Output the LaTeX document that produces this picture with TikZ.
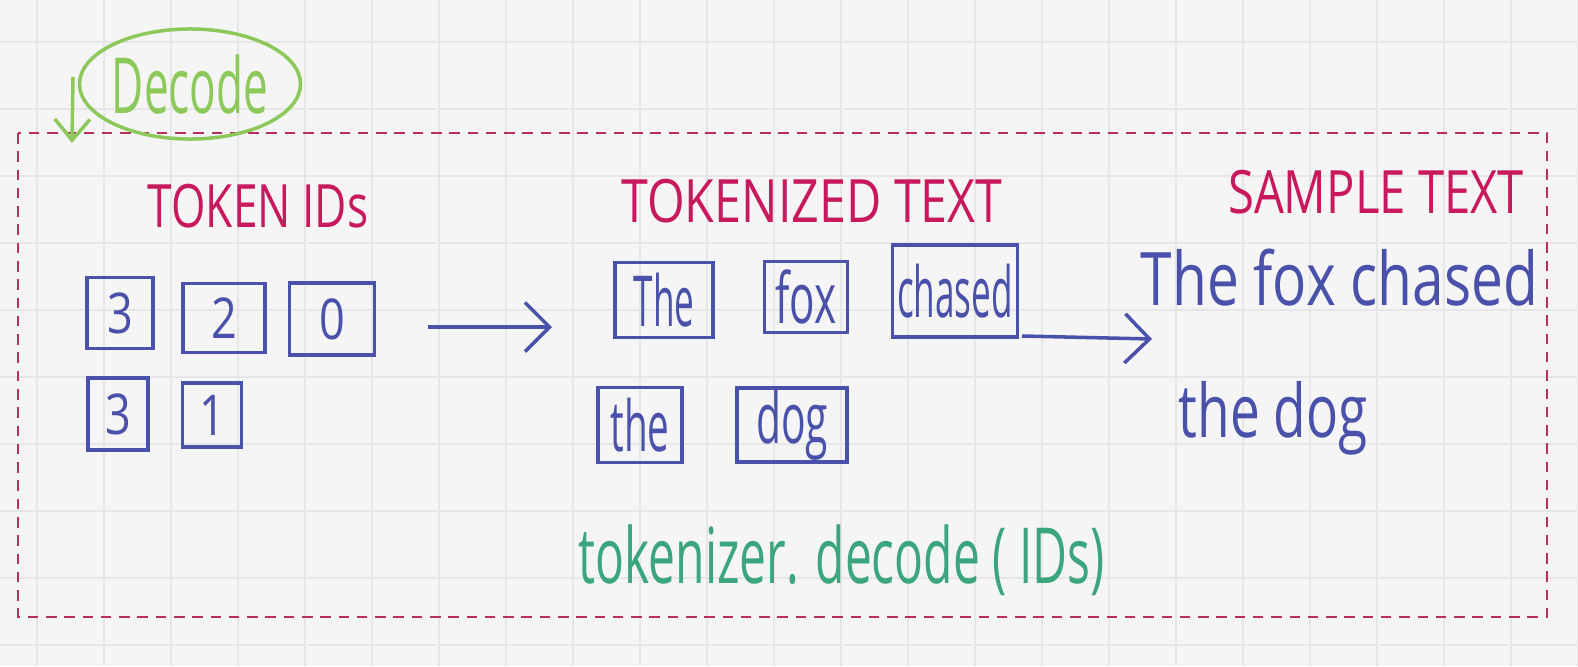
\documentclass[tikz,border=0pt]{standalone}
\usepackage{fontspec}
\usepackage{graphicx}
\setmainfont{Open Sans}
\usetikzlibrary{arrows.meta,shapes.geometric}
\definecolor{bg}{HTML}{F5F5F5}
\definecolor{gridc}{HTML}{E6E6E6}
\definecolor{pinkc}{HTML}{C8195C}
\definecolor{dashc}{HTML}{B5305F}
\definecolor{bluec}{HTML}{4A51AA}
\definecolor{greenc}{HTML}{3BA67E}
\definecolor{limec}{HTML}{8CC95A}
\newcommand\hw[2]{\scalebox{#1}[1]{#2}}
\begin{document}
\begin{tikzpicture}[x=0.01cm,y=-0.01cm,
  idbox/.style={draw=bluec,line width=1pt,text=bluec,inner sep=0pt,font=\fontsize{16}{16}\selectfont},
  wordbox/.style={draw=bluec,line width=1pt,text=bluec,inner sep=0pt,font=\fontsize{20}{20}\selectfont},
  title/.style={text=pinkc,inner sep=0pt,font=\fontsize{17}{17}\selectfont},
  sample/.style={text=bluec,inner sep=0pt,font=\fontsize{21}{21}\selectfont,anchor=base west},
  arr/.style={draw=bluec,line width=1pt,-{Straight Barb[length=7pt,width=14pt,line width=1pt]}},
]
\fill[bg] (0,0) rectangle (1578,666);
\useasboundingbox (0,0) rectangle (1578,666);
\foreach \x in {37,104,...,1578} \draw[gridc,line width=0.8pt] (\x,0)--(\x,666);
\foreach \y in {42,109,...,666} \draw[gridc,line width=0.8pt] (0,\y)--(1578,\y);

\draw[dashc,line width=0.7pt,dash pattern=on 3pt off 2.2pt] (18,133) rectangle (1547,617);

% Decode label
\node[ellipse,draw=limec,line width=1pt,minimum width=2.16cm,minimum height=1.1cm,inner sep=0pt,
      text=limec,font=\fontsize{22}{22}\selectfont] (dec) at (190,84) {\hw{0.57}{Decode}};
\coordinate (ds) at (73,77);
\coordinate (de) at (72,143);
\draw[limec,line width=1pt,-{Straight Barb[length=6pt,width=10pt,line width=1pt]}] (ds) -- (de);

% titles
\node[title] (tid) at (258,206) {\hw{0.74}{TOKEN IDs}};
\node[title] (ttok) at (812,201) {\hw{0.81}{TOKENIZED TEXT}};
\node[title] (tsam) at (1376,192) {\hw{0.79}{SAMPLE TEXT}};

% token id boxes
\node[idbox,minimum width=0.66cm,minimum height=0.71cm] (i1) at (120,313) {\hw{0.8}{3}};
\node[idbox,minimum width=0.82cm,minimum height=0.69cm] (i2) at (224,318) {\hw{0.8}{2}};
\node[idbox,minimum width=0.85cm,minimum height=0.72cm] (i3) at (332,319) {\hw{0.8}{0}};
\node[idbox,minimum width=0.60cm,minimum height=0.72cm] (i4) at (118,414) {\hw{0.8}{3}};
\node[idbox,minimum width=0.59cm,minimum height=0.64cm] (i5) at (212,415) {\hw{0.8}{1}};

% word boxes
\node[wordbox,minimum width=0.98cm,minimum height=0.75cm] (w1) at (664,300) {\hw{0.5}{The}};
\node[wordbox,minimum width=0.83cm,minimum height=0.71cm] (w2) at (806,297) {\hw{0.6}{fox}};
\node[wordbox,minimum width=1.25cm,minimum height=0.92cm] (w3) at (955,291) {\hw{0.5}{chased}};
\node[wordbox,minimum width=0.84cm,minimum height=0.75cm] (w4) at (640,425) {\hw{0.55}{the}};
\node[wordbox,minimum width=1.10cm,minimum height=0.74cm] (w5) at (792,425) {\hw{0.58}{dog}};

% sample text
\node[sample] (s1) at (1140,305) {\hw{0.77}{The fox chased}};
\node[sample] (s2) at (1178,437) {\hw{0.72}{the dog}};

% code
\node[text=greenc,font=\fontsize{22}{22}\selectfont,anchor=base west,inner sep=0pt] (code) at (578,583)
  {\hw{0.62}{tokenizer. decode ( IDs)}};

% arrows
\coordinate (a1s) at (428,327);
\coordinate (a1e) at (552,327);
\draw[arr] (a1s) -- (a1e);
\coordinate (a2s) at (1022,336);
\coordinate (a2e) at (1152,339);
\draw[arr] (a2s) -- (a2e);
\end{tikzpicture}
\end{document}
